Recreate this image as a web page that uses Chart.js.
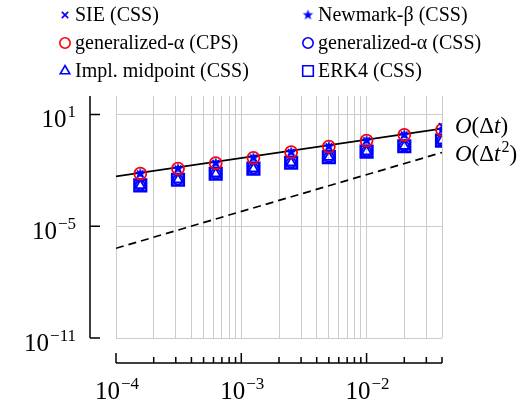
<!DOCTYPE html>
<html>
<head>
<meta charset="utf-8">
<script src="https://cdn.jsdelivr.net/npm/chart.js@4.4.1/dist/chart.umd.min.js"></script>
<style>
  html, body { margin: 0; padding: 0; background: #fff; }
  #wrap { width: 523px; height: 409px; }
</style>
</head>
<body>
<div id="wrap"><canvas id="conv" width="523" height="409"></canvas></div>
<script>
// step sizes (halved each run)
const dt = [1.5625e-4, 3.125e-4, 6.25e-4, 1.25e-3, 2.5e-3, 5e-3, 1e-2, 2e-2, 4e-2];

// errors
const errSIE      = [6.7e-3, 1.24e-2, 2.47e-2, 4.8e-2, 9.6e-2, 0.193, 0.405, 0.818, 2.4];
const errNewmark  = [6.7e-3, 1.24e-2, 2.47e-2, 4.8e-2, 9.6e-2, 0.193, 0.405, 0.818, 1.52];
const errGenCPS   = [6.7e-3, 1.24e-2, 2.47e-2, 4.8e-2, 9.6e-2, 0.193, 0.405, 0.818, 1.52];
const errGenCSS   = [1.57e-3, 3.18e-3, 6.67e-3, 1.24e-2, 2.59e-2, 5.16e-2, 0.104, 0.2, 0.405];
const errMidpoint = [1.57e-3, 3.18e-3, 6.67e-3, 1.24e-2, 2.59e-2, 5.16e-2, 0.104, 0.2, 0.405];
const errERK4     = [1.57e-3, 3.18e-3, 6.67e-3, 1.24e-2, 2.59e-2, 5.16e-2, 0.104, 0.2, 0.405];

// reference slopes
const refX      = [1e-4, 4e-2];
const refOrder1 = [4.8e-3, 1.78];
const refOrder2 = [6.6e-7, 9.2e-2];

const xTickExps = [-4, -3, -2];
const yTickExps = [-11, -5, 1];

const legendNames = ['SIE (CSS)', 'Newmark-\u03b2 (CSS)', 'generalized-\u03b1 (CPS)',
                     'generalized-\u03b1 (CSS)', 'Impl. midpoint (CSS)', 'ERK4 (CSS)'];

const BLUE = '#0000ff';
const RED = '#ff0000';
const SERIF = '"Liberation Serif", "Times New Roman", serif';

function makeStar(r, color) {
  const c = document.createElement('canvas');
  const s = Math.ceil(2 * r + 2);
  c.width = s; c.height = s;
  const g = c.getContext('2d');
  g.fillStyle = color;
  g.beginPath();
  for (let i = 0; i < 10; i++) {
    const a = -Math.PI / 2 + i * Math.PI / 5;
    const rr = i % 2 ? r * 0.42 : r;
    g.lineTo(s / 2 + rr * Math.cos(a), s / 2 + rr * Math.sin(a));
  }
  g.closePath();
  g.fill();
  return c;
}
const star = makeStar(6, BLUE);
const starSmall = makeStar(5.5, BLUE);

function pts(ys) {
  return ys.map((y, i) => ({ x: (ys.length === 2 ? refX : dt)[i], y: y }));
}

function markerSet(label, ys, style, radius, color, bw, order) {
  return {
    label: label, data: pts(ys), order: order,
    pointStyle: style, pointRadius: radius, pointBorderWidth: bw,
    pointBorderColor: color, pointBackgroundColor: 'rgba(0,0,0,0)',
    showLine: false
  };
}

const datasets = [
  markerSet(legendNames[0], errSIE, 'crossRot', 4.5, BLUE, 1.6, 1),
  markerSet(legendNames[1], errNewmark, star, 6, BLUE, 1, 2),
  markerSet(legendNames[2], errGenCPS, 'circle', 6, RED, 1.8, 3),
  markerSet(legendNames[3], errGenCSS, 'circle', 4.8, BLUE, 2, 4),
  markerSet(legendNames[4], errMidpoint, 'triangle', 5.5, BLUE, 1.8, 5),
  markerSet(legendNames[5], errERK4, 'rect', 8.2, BLUE, 2.6, 6),
  {
    label: 'O1', data: pts(refOrder1), order: 10, showLine: true,
    borderColor: '#000', borderWidth: 1.6, pointRadius: 0
  },
  {
    label: 'O2', data: pts(refOrder2), order: 10, showLine: true,
    borderColor: '#000', borderWidth: 1.7, borderDash: [8, 5], pointRadius: 0
  }
];

// legend: 2 columns x 3 rows
const legendMarkers = [
  { style: 'crossRot', r: 4.5, color: BLUE, bw: 1.6 },
  { style: starSmall, r: 5.5, color: BLUE, bw: 1 },
  { style: 'circle', r: 5.2, color: RED, bw: 1.6 },
  { style: 'circle', r: 5.2, color: BLUE, bw: 1.6 },
  { style: 'triangle', r: 5.5, color: BLUE, bw: 1.6 },
  { style: 'rect', r: 7.5, color: BLUE, bw: 1.6 }
];

function drawPow(ctx, exp, x, y, align) {
  const base = '10';
  const sup = (exp < 0 ? '\u2212' : '') + Math.abs(exp);
  ctx.font = '25px ' + SERIF;
  const wb = ctx.measureText(base).width;
  ctx.font = '17px ' + SERIF;
  const ws = ctx.measureText(sup).width;
  const w = wb + ws + 1;
  let x0 = align === 'right' ? x - w : x - w / 2;
  ctx.textAlign = 'left';
  ctx.textBaseline = 'alphabetic';
  ctx.fillStyle = '#000';
  ctx.font = '25px ' + SERIF;
  ctx.fillText(base, x0, y);
  ctx.font = '17px ' + SERIF;
  ctx.fillText(sup, x0 + wb + 1, y - 10);
}

function drawRefLabel(ctx, x, y, squared) {
  ctx.textAlign = 'left';
  ctx.textBaseline = 'alphabetic';
  ctx.fillStyle = '#000';
  const parts = [
    ['italic 23px ', 'O'], ['23px ', '(\u0394'], ['italic 23px ', 't']
  ];
  let cx = x;
  for (const p of parts) {
    ctx.font = p[0] + SERIF;
    ctx.fillText(p[1], cx, y);
    cx += ctx.measureText(p[1]).width;
  }
  if (squared) {
    ctx.font = '16px ' + SERIF;
    ctx.fillText('2', cx + 1, y - 9);
    cx += ctx.measureText('2').width + 1;
  }
  ctx.font = '23px ' + SERIF;
  ctx.fillText(')', cx, y);
}

const decoPlugin = {
  id: 'deco',
  afterDraw(chart) {
    const ctx = chart.ctx;
    const xs = chart.scales.x, ys = chart.scales.y;
    const area = chart.chartArea;
    ctx.save();
    ctx.strokeStyle = '#000';
    ctx.lineWidth = 1.5;

    // detached y spine
    const yx = area.left - 26;
    ctx.beginPath();
    ctx.moveTo(yx, area.top);
    ctx.lineTo(yx, area.bottom);
    yTickExps.forEach(e => {
      const py = ys.getPixelForValue(Math.pow(10, e));
      ctx.moveTo(yx, py);
      ctx.lineTo(yx + 10, py);
    });
    ctx.stroke();
    yTickExps.forEach(e => {
      drawPow(ctx, e, yx - 14, ys.getPixelForValue(Math.pow(10, e)) + 12.5, 'right');
    });

    // detached x spine
    const xy = area.bottom + 25;
    ctx.beginPath();
    ctx.moveTo(area.left, xy);
    ctx.lineTo(area.right, xy);
    xs.ticks.forEach(t => {
      const px = xs.getPixelForValue(t.value);
      const major = xTickExps.some(e => Math.abs(t.value / Math.pow(10, e) - 1) < 1e-6);
      ctx.moveTo(px, xy);
      ctx.lineTo(px, xy - (major ? 10 : 6));
    });
    ctx.stroke();
    xTickExps.forEach(e => {
      drawPow(ctx, e, xs.getPixelForValue(Math.pow(10, e)) + 1, xy + 36, 'center');
    });

    // slope labels
    drawRefLabel(ctx, area.right + 13, ys.getPixelForValue(refOrder1[1]) + 4, false);
    drawRefLabel(ctx, area.right + 13, ys.getPixelForValue(refOrder2[1]) + 8, true);

    // legend
    const colX = [65, 308];
    const rowY = [15, 43, 71];
    legendNames.forEach((name, i) => {
      const mx = colX[i % 2], my = rowY[Math.floor(i / 2)];
      const m = legendMarkers[i];
      ctx.strokeStyle = m.color;
      ctx.fillStyle = 'rgba(0,0,0,0)';
      ctx.lineWidth = m.bw;
      Chart.helpers.drawPoint(ctx, { pointStyle: m.style, radius: m.r, borderWidth: m.bw, rotation: 0 }, mx, my);
      ctx.fillStyle = '#000';
      ctx.font = '20px ' + SERIF;
      ctx.textAlign = 'left';
      ctx.textBaseline = 'alphabetic';
      ctx.fillText(name, mx + 10, my + 6);
    });
    ctx.restore();
  }
};

new Chart(document.getElementById('conv'), {
  type: 'scatter',
  data: { datasets: datasets },
  plugins: [decoPlugin],
  options: {
    responsive: false,
    animation: false,
    events: [],
    layout: { padding: { left: 116, right: 81, top: 96, bottom: 71 } },
    plugins: { legend: { display: false }, tooltip: { enabled: false } },
    scales: {
      x: {
        type: 'logarithmic', min: 1e-4, max: 4e-2,
        afterBuildTicks: scale => {
          const t = [];
          xTickExps.forEach(e => {
            for (let m = 1; m <= 9; m++) {
              const v = m * Math.pow(10, e);
              if (v <= 4e-2 * 1.0001) t.push({ value: v });
            }
          });
          scale.ticks = t;
        },
        ticks: { display: false },
        border: { display: false },
        grid: { color: '#cccccc', lineWidth: 1, drawTicks: false }
      },
      y: {
        type: 'logarithmic', min: 1e-11, max: 1e2,
        afterBuildTicks: scale => {
          scale.ticks = yTickExps.map(e => ({ value: Math.pow(10, e) }));
        },
        ticks: { display: false },
        border: { display: false },
        grid: { color: '#cccccc', lineWidth: 1, drawTicks: false }
      }
    }
  }
});
</script>
</body>
</html>
